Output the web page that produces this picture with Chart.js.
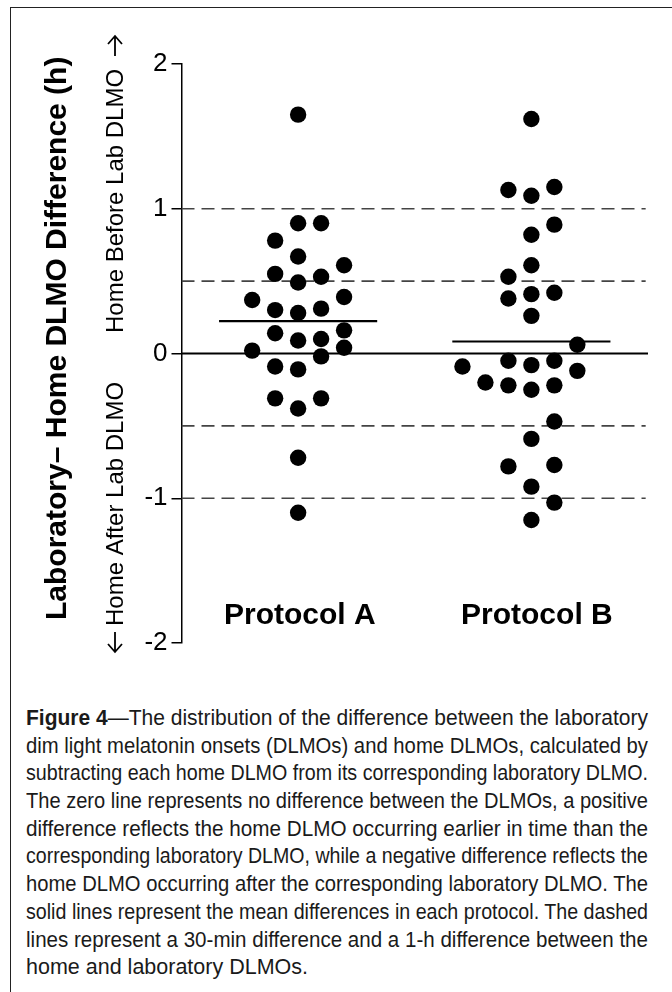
<!DOCTYPE html>
<html>
<head>
<meta charset="utf-8">
<script src="https://cdn.jsdelivr.net/npm/chart.js@4"></script>
<style>
  html, body { margin:0; padding:0; background:#fff; }
  body { width:672px; height:992px; overflow:hidden; position:relative; }
  #frame { position:absolute; left:10px; top:7px; width:700px; height:1000px; border-left:1.5px solid #222; border-top:1.5px solid #222; }
  #wrap { position:absolute; left:0; top:0; width:672px; height:680px; }
  #caption { position:absolute; left:26px; top:705px; width:622px; color:#1a1a1a;
    font-family:"Liberation Sans Narrow","Arial Narrow","Liberation Sans",Arial,sans-serif; font-size:21.5px; }
  .ln { height:27.7px; line-height:27.7px; white-space:nowrap; }
  .ln span { display:inline-block; transform-origin:left center; }
</style>
</head>
<body>
<div id="frame"></div>
<div id="wrap"><canvas id="c" width="672" height="680"></canvas></div>
<div id="caption"></div>
<script>
// ---- data ----
const categories = ["Protocol A", "Protocol B"];
const yTicks = [-2, -1, 0, 1, 2];
const protocolA = [1.65, 0.90, 0.90, 0.78, 0.67, 0.61, 0.55, 0.53, 0.49, 0.39, 0.37, 0.31, 0.30, 0.28,
                   0.16, 0.14, 0.10, 0.09, 0.04, 0.02, -0.02, -0.09, -0.11, -0.31, -0.31, -0.38, -0.72, -1.10];
const swarmSlotA = [0, 0, 1, -1, 0, 2, -1, 1, 0, 2, -2, 1, -1, 0,
                    2, -1, 1, 0, 2, -2, 1, -1, 0, -1, 1, 0, 0, 0];
const protocolB = [1.62, 1.15, 1.13, 1.09, 0.89, 0.82, 0.61, 0.53, 0.42, 0.41, 0.38, 0.26, 0.06, -0.05,
                   -0.05, -0.08, -0.09, -0.12, -0.20, -0.22, -0.22, -0.25, -0.47, -0.59, -0.77, -0.78, -0.92, -1.03, -1.15];
const swarmSlotB = [0, 1, -1, 0, 1, 0, 0, -1, 1, 0, -1, 0, 2, -1,
                    1, 0, -3, 2, -2, -1, 1, 0, 1, 0, 1, -1, 0, 1, 0];
const meanDiff = [0.224, 0.083];
const dashedLevels = [1, 0.5, -0.5, -1];
const captionLines = [
  "<b>Figure 4</b>—The distribution of the difference between the laboratory",
  "dim light melatonin onsets (DLMOs) and home DLMOs, calculated by",
  "subtracting each home DLMO from its corresponding laboratory DLMO.",
  "The zero line represents no difference between the DLMOs, a positive",
  "difference reflects the home DLMO occurring earlier in time than the",
  "corresponding laboratory DLMO, while a negative difference reflects the",
  "home DLMO occurring after the corresponding laboratory DLMO. The",
  "solid lines represent the mean differences in each protocol. The dashed",
  "lines represent a 30-min difference and a 1-h difference between the",
  "home and laboratory DLMOs."
];

// ---- layout constants ----
const SLOT_W = 0.0985;      // swarm column spacing in x-units
const MEAN_HALF = 0.339;    // half-length of mean lines in x-units
const FONT = '"Liberation Sans", Arial, sans-serif';

const pts = (vals, slots, center) => vals.map((v, i) => ({x: center + slots[i] * SLOT_W, y: v}));

const datasets = [
  { label: categories[0], data: pts(protocolA, swarmSlotA, 1), pointRadius: 8.2, pointBackgroundColor: '#000',
    pointBorderWidth: 0, showLine: false, order: 0 },
  { label: categories[1], data: pts(protocolB, swarmSlotB, 2), pointRadius: 8.2, pointBackgroundColor: '#000',
    pointBorderWidth: 0, showLine: false, order: 0 },
  { label: 'zero', data: [{x: 0.5, y: 0}, {x: 2.5, y: 0}], showLine: true, borderColor: '#000', borderWidth: 2.2,
    pointRadius: 0, order: 2 },
  { label: 'meanA', data: [{x: 1 - MEAN_HALF, y: meanDiff[0]}, {x: 1 + MEAN_HALF, y: meanDiff[0]}], showLine: true,
    borderColor: '#000', borderWidth: 2.2, pointRadius: 0, order: 2 },
  { label: 'meanB', data: [{x: 2 - MEAN_HALF, y: meanDiff[1]}, {x: 2 + MEAN_HALF, y: meanDiff[1]}], showLine: true,
    borderColor: '#000', borderWidth: 2.2, pointRadius: 0, order: 2 }
];
dashedLevels.forEach(l => datasets.push({
  label: 'ref' + l, data: [{x: 0.5, y: l}, {x: 2.49, y: l}], showLine: true, borderColor: '#444',
  borderWidth: 1.6, borderDash: [13, 7], pointRadius: 0, order: 3
}));

const textPlugin = {
  id: 'texts',
  afterDraw(chart) {
    const ctx = chart.ctx, xs = chart.scales.x;
    ctx.save();
    ctx.fillStyle = '#000';
    // protocol labels
    ctx.font = 'bold 30px ' + FONT;
    ctx.textAlign = 'center';
    ctx.textBaseline = 'alphabetic';
    ctx.fillText(categories[0], xs.getPixelForValue(1) + 1.7, 624);
    ctx.fillText(categories[1], xs.getPixelForValue(2) + 5.5, 624);
    // rotated titles
    const rot = (txt, x, y, font, align) => {
      ctx.save(); ctx.translate(x, y); ctx.rotate(-Math.PI / 2);
      ctx.font = font; ctx.textAlign = align || 'left'; ctx.textBaseline = 'middle';
      ctx.fillText(txt, 0, 0); ctx.restore();
    };
    rot('Laboratory\u2013 Home DLMO Difference (h)', 58, 620, 'bold 30px ' + FONT);
    rot('Home After Lab DLMO', 116, 626, '24px ' + FONT);
    rot('Home Before Lab DLMO', 116, 333, '24px ' + FONT);
    // arrows
    const arrow = (x, yTip, yTail) => {
      ctx.save(); ctx.strokeStyle = '#000'; ctx.lineWidth = 1.8;
      const d = yTip < yTail ? 1 : -1;
      ctx.beginPath(); ctx.moveTo(x, yTail); ctx.lineTo(x, yTip);
      ctx.moveTo(x - 7, yTip + d * 8); ctx.lineTo(x, yTip); ctx.lineTo(x + 7, yTip + d * 8);
      ctx.stroke(); ctx.restore();
    };
    arrow(115, 36, 56);
    arrow(115, 652, 632);
    ctx.restore();
  }
};

new Chart(document.getElementById('c'), {
  type: 'scatter',
  data: { datasets },
  options: {
    responsive: false, animation: false, devicePixelRatio: 1,
    layout: { padding: { left: 0, top: 64, right: 24, bottom: 37 } },
    plugins: { legend: { display: false }, tooltip: { enabled: false } },
    scales: {
      x: { type: 'linear', min: 0.5, max: 2.5, display: false },
      y: {
        type: 'linear', min: -2, max: 2,
        afterFit: s => { s.width = 181.5; },
        afterBuildTicks: s => { s.ticks = yTicks.map(v => ({value: v})); },
        ticks: { color: '#000', font: { family: FONT, size: 26 }, padding: 4 },
        grid: { drawOnChartArea: false, drawTicks: true, tickLength: 10, color: '#000', lineWidth: 1.5 },
        border: { display: true, color: '#000', width: 1.5 }
      }
    }
  },
  plugins: [textPlugin]
});

// caption with manual justification
const cap = document.getElementById('caption');
captionLines.forEach((html, i) => {
  const d = document.createElement('div'); d.className = 'ln';
  const s = document.createElement('span'); s.innerHTML = html; d.appendChild(s); cap.appendChild(d);
  const w = s.getBoundingClientRect().width, target = 622;
  const spaces = (s.textContent.match(/ /g) || []).length;
  if (w > target) { s.style.transform = 'scaleX(' + (target / w) + ')'; }
  else if (i < captionLines.length - 1 && spaces) { s.style.wordSpacing = ((target - w) / spaces) + 'px'; }
});
</script>
</body>
</html>
